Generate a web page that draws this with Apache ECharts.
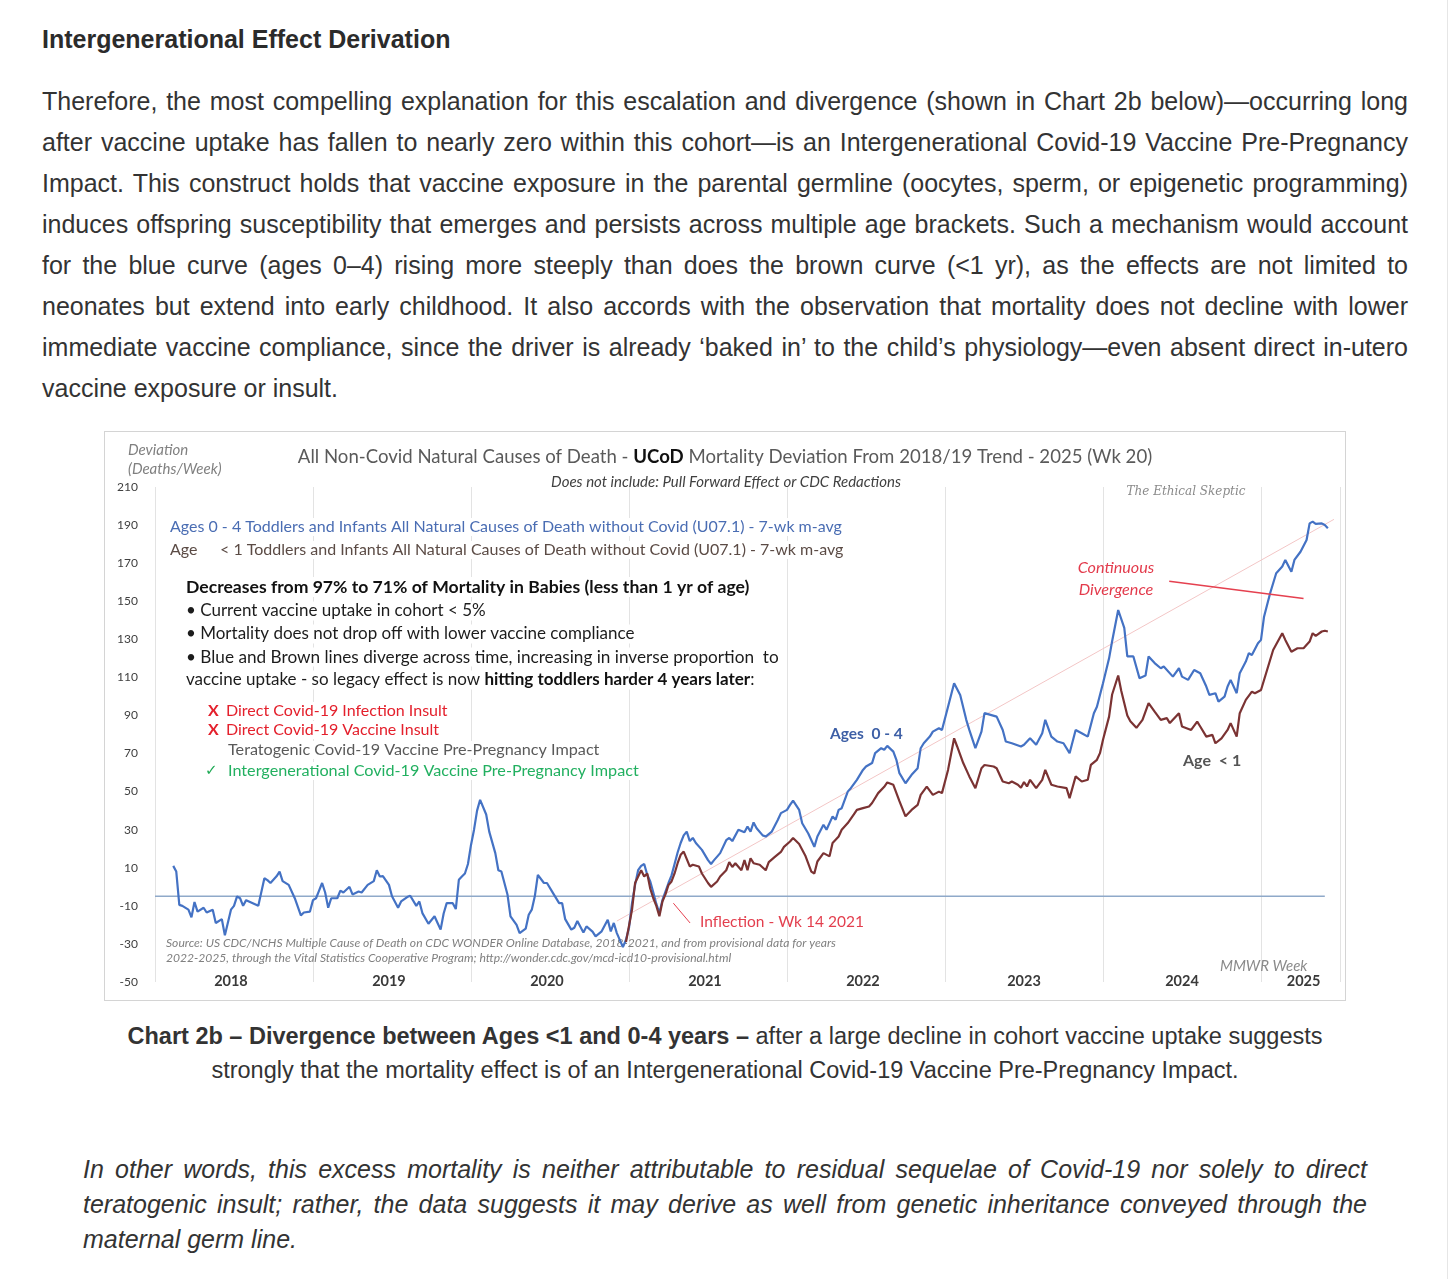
<!DOCTYPE html>
<html><head><meta charset="utf-8">
<script src="https://cdn.jsdelivr.net/npm/echarts@6/dist/echarts.min.js"></script>
<style>
html,body{margin:0;padding:0;background:#fff;}
body{width:1456px;height:1279px;overflow:hidden;position:relative;font-family:"Liberation Sans",Arial,sans-serif;color:#333;}
#h{position:absolute;left:42px;top:24px;font-size:25px;line-height:30px;font-weight:bold;color:#2b2b2b;white-space:nowrap;}
#p{position:absolute;left:42px;top:81px;width:1366px;font-size:25px;line-height:41px;color:#333;}
#p div,#q div{text-align:justify;text-align-last:justify;white-space:nowrap;}
#p div.l,#q div.l{text-align-last:left;}
#frame{position:absolute;left:104px;top:431px;width:1242px;height:570px;border:1px solid #d4d4d4;box-sizing:border-box;}
#chart{position:absolute;left:104px;top:431px;width:1242px;height:570px;}
#cap{position:absolute;left:60px;top:1019px;width:1330px;text-align:center;font-size:23.5px;line-height:34px;color:#333;}
#q{position:absolute;left:83px;top:1152px;width:1284px;font-size:25px;line-height:35px;font-style:italic;color:#333;}
#sb{position:absolute;left:1447px;top:0;width:1px;height:1279px;background:#e6e6e6;}
</style></head>
<body>
<div id="h">Intergenerational Effect Derivation</div>
<div id="p">
<div>Therefore, the most compelling explanation for this escalation and divergence (shown in Chart 2b below)—occurring long</div>
<div>after vaccine uptake has fallen to nearly zero within this cohort—is an Intergenerational Covid-19 Vaccine Pre-Pregnancy</div>
<div>Impact. This construct holds that vaccine exposure in the parental germline (oocytes, sperm, or epigenetic programming)</div>
<div>induces offspring susceptibility that emerges and persists across multiple age brackets. Such a mechanism would account</div>
<div>for the blue curve (ages 0–4) rising more steeply than does the brown curve (&lt;1 yr), as the effects are not limited to</div>
<div>neonates but extend into early childhood. It also accords with the observation that mortality does not decline with lower</div>
<div>immediate vaccine compliance, since the driver is already ‘baked in’ to the child’s physiology—even absent direct in-utero</div>
<div class="l">vaccine exposure or insult.</div>
</div>
<div id="frame"></div>
<div id="chart"></div>
<div id="cap"><b>Chart 2b – Divergence between Ages &lt;1 and 0-4 years –</b> after a large decline in cohort vaccine uptake suggests<br>strongly that the mortality effect is of an Intergenerational Covid-19 Vaccine Pre-Pregnancy Impact.</div>
<div id="q">
<div>In other words, this excess mortality is neither attributable to residual sequelae of Covid-19 nor solely to direct</div>
<div>teratogenic insult; rather, the data suggests it may derive as well from genetic inheritance conveyed through the</div>
<div class="l">maternal germ line.</div>
</div>
<div id="sb"></div>
<script>
// ---- data (weeks counted from start of MMWR 2018) ----
const yearLabels = ['2018','2019','2020','2021','2022','2023','2024','2025'];
const yearLabelWeeks = [25,77,129,181,233,286,338,378];
const yTickLabels = [-50,-30,-10,10,30,50,70,90,110,130,150,170,190,210];

const blueWeeks = [6,7,8,9,11,12,13,14,16,17,19,20,22,23,25,26,27,28,29,30,32,34,36,37,38,40,41,42,44,46,48,49,51,52,53,54,55,56,57,58,60,61,62,64,65,67,68,70,72,73,74,75,77,78,80,81,83,84,86,87,88,90,92,93,94,95,96,98,99,100,101,102,103,104,105,106,107,109,110,112,113,114,116,117,119,120,122,123,124,125,126,128,129,131,133,134,135,137,138,139,141,142,144,145,147,149,150,151,152,154,155,156,157,158,159,160,161,162,163,164,165,166,167,168,169,170,171,172,173,174,175,176,177,178,180,182,183,184,186,188,189,190,192,194,195,196,197,198,200,201,203,205,206,208,209,210,212,213,215,217,218,220,221,223,224,225,226,228,229,231,233,234,236,237,239,240,241,243,244,245,247,249,251,252,253,255,256,258,259,261,263,265,267,268,270,272,273,275,277,279,280,282,285,286,288,290,292,293,295,297,299,301,303,305,307,309,310,312,314,315,317,319,320,322,324,326,327,329,331,332,335,337,338,340,342,344,346,347,349,350,352,353,354,356,357,359,360,361,363,364,365,367,369,371,372,374,375,377,379,380,381,382,384,385,386];
const blueDev = [11,8,-9.5,-10,-12,-16,-8,-13,-11,-13.5,-12,-19,-17,-25.5,-12,-10,-5,-6,-10,-7,-8.5,-10,4.5,3.5,2,5.5,8,3,1,-6,-15,-13.5,-13,-7,-6,-2,2,-3,-11,-6,-6,-2,-3,0,-4,-2.5,-3,1,3,8.7,5.4,5.6,1,-5,-11,-7.7,-5.4,-4.7,-10,-7.7,-13.8,-19.4,-15.5,-19,-22.5,-14,-8.6,-8.6,-11.7,3.7,5.4,7,12,22,30,40,45.7,38,29,17.7,8.7,8,-4,-15.5,-20,-24.3,-22,-14.7,-12,-5,6.3,2,2,-3.3,-8.6,-8.6,-17,-22.5,-21.5,-18,-24,-20.8,-23.5,-26,-23.4,-17.3,-23.4,-19,-24.3,-31.7,-27.8,-21.5,-8.6,1,8.7,11,12,6.3,2.8,-3,-9,-13.8,-7,-2.5,2,6,12,18,23,27,29,24,25.7,23,19.4,14,12,14,17.7,24.5,25.7,24,30,28.6,31.7,29,33.8,30.8,27,26.4,29,35.2,38.7,40.4,43,45.3,40.4,33.4,28,21,26.4,32.6,30,37,35.2,40.4,41.3,50,51.8,56.2,61.4,63.2,65,70.2,72.8,72,74,71,66.7,59.7,54.4,58.8,62.3,72.8,75.4,78.9,81.5,83.3,82.4,94.6,106.9,100.8,87.7,82.4,72.8,81.5,91.2,90.3,89.4,82.4,76.3,75.4,73.7,74.6,78,74.6,80.7,87.7,78.9,76.3,75.4,70.2,82.4,80.7,78.9,91.2,94.6,106.9,120,129,145.4,136,121,121,109.6,111,121,117.5,114.8,115.7,110.4,114.8,110.4,108.7,113.9,112.2,105.2,100.8,101.7,97.3,99.9,105.2,108.7,101.7,112.2,118.3,122.7,121.8,127.9,129.7,141.9,154.2,164.7,168.2,171.7,165.5,171.7,176,182.2,190.9,191.8,190.6,190.9,190,188.3];

const brownWeeks = [155,157,158,160,161,162,163,164,165,166,167,168,169,170,171,172,173,174,176,177,179,180,182,183,185,186,188,189,190,191,193,194,195,196,197,199,201,202,204,206,207,209,210,212,214,216,217,218,220,222,223,225,226,228,230,231,233,235,236,238,240,241,243,245,247,249,251,252,254,256,258,259,261,263,264,266,268,270,272,273,276,277,279,281,282,284,285,286,287,288,290,292,293,295,297,300,301,303,305,307,308,310,311,312,314,315,317,318,320,321,323,325,327,329,331,333,334,337,338,341,343,344,346,348,349,351,353,354,356,357,359,361,362,364,366,368,371,372,374,376,378,380,381,382,384,385,386];
const brownDev = [-29,-12,2,8.7,5.4,7,-1,-6,-10,-15.5,-7.7,-4,1,2.8,7,12.4,16.8,18.5,10.7,11.6,10.7,7,2,0,2.8,5.4,8.7,13,10.4,12.4,8.7,14,8.7,15,12.4,11.6,8.7,13,15.7,18.3,21,23.8,25.6,22.5,16.5,8,7,13.3,17.7,16,23,26.4,30,33.5,38,40.4,41.3,42.2,44,49.2,52.5,54.8,53.6,45,37,40.4,43,48.3,52.6,48.3,50,49.2,61.4,78,73.7,65,58,51.8,62.3,64,63.2,62.3,55.3,54.4,55.3,53.6,52,55,52.7,56.2,51.8,56.2,61.4,53.6,52.7,51.8,46.6,58,55.3,56.2,64,66.7,70.2,77.2,89.4,101,111,103,90,87,83.5,87.7,96.5,92,87.7,88.6,86,91.2,84.2,82.4,86.8,84.2,78.9,79.8,75.4,78,82.4,86,78.9,91.2,98.2,102.5,101.7,103.4,113.9,124.4,133.2,129.7,123.5,125.3,125.3,128.8,133.2,131.8,134.1,134.5,134.1];

const baselineWeeks = [0,385], baselineDev = [-5,-5];
const trendWeeks = [152,388], trendDev = [-18,193];
const divergenceWeeks = [333.8,378], divergenceDev = [160.5,151.4];
const inflectionWeeks = [170.6,176.1], inflectionDev = [-8.6,-19];

const pairs = (w,v) => w.map((x,i)=>[x,v[i]]);
const F = '"Lato","Open Sans",sans-serif';

const chart = echarts.init(document.getElementById('chart'), null, {renderer:'canvas'});
const lineS = (data,color,width,z) => ({type:'line',data,symbol:'none',silent:true,z:z,
  lineStyle:{color,width},itemStyle:{color},animation:false});
// text helper; bg=true gives the text a white box that hides the grid lines behind it
const T = (text,x,y,o,bg) => ({type:'text',silent:true,z:1,style:Object.assign({text,x:bg?x-2:x,y,
  font:'16px '+F,fill:'#333',textVerticalAlign:'middle'},
  bg?{backgroundColor:'#fff',padding:[1,2]}:{},o||{})});

chart.setOption({
  animation:false,
  grid:{left:51,top:56,width:1185,height:495,containLabel:false},
  xAxis:{type:'value',min:0,max:390,interval:52,
    axisLine:{show:false},axisTick:{show:false},
    splitLine:{show:true,lineStyle:{color:'#e3e3e3',width:1}},
    axisLabel:{customValues:yearLabelWeeks,margin:-1,verticalAlign:'middle',
      fontFamily:F,fontSize:14.5,fontWeight:'bold',color:'#3a3a3a',
      formatter:v=>yearLabels[yearLabelWeeks.indexOf(v)]}},
  yAxis:{type:'value',min:-50,max:210,
    axisLine:{show:false},axisTick:{show:false},splitLine:{show:false},
    axisLabel:{customValues:yTickLabels,margin:17,fontFamily:F,fontSize:12,color:'#404040'}},
  series:[
    lineS(pairs(baselineWeeks,baselineDev),'#8fa9c9',1.5,1),
    lineS(pairs(trendWeeks,trendDev),'#f3c6c6',1,2),
    lineS(pairs(blueWeeks,blueDev),'#4472c4',2.2,3),
    lineS(pairs(brownWeeks,brownDev),'#7b3333',2.2,4),
    lineS(pairs(divergenceWeeks,divergenceDev),'#e5404f',1.5,5),
    lineS(pairs(inflectionWeeks,inflectionDev),'#e5404f',1,5)
  ],
  graphic:[
    T('Deviation',24,19,{font:'italic 15px '+F,fill:'#808080'}),
    T('(Deaths/Week)',24,38,{font:'italic 15px '+F,fill:'#808080'}),
    {type:'text',silent:true,z:1,style:{x:621,y:26,textAlign:'center',textVerticalAlign:'middle',
      text:'{a|All Non-Covid Natural Causes of Death - }{b|UCoD}{a| Mortality Deviation From 2018/19 Trend - 2025 (Wk 20)}',
      rich:{a:{fontFamily:F,fontSize:18.6,fill:'#5a5a5a',color:'#5a5a5a'},b:{fontFamily:F,fontSize:18.6,fontWeight:'bold',fill:'#111',color:'#111'}}}},
    T('Does not include: Pull Forward Effect or CDC Redactions',622,51,{textAlign:'center',font:'italic 15px '+F,fill:'#404040'}),
    T('The Ethical Skeptic',1082,61,{textAlign:'center',font:'italic 12px "DejaVu Serif",serif',fill:'#8a8a8a'}),
    T('Ages 0 - 4 Toddlers and Infants All Natural Causes of Death without Covid (U07.1) - 7-wk m-avg',66,96,{font:'16px '+F,fill:'#4a6db3'},true),
    T('Age',66,119,{font:'16px '+F,fill:'#5b4b45'},true),
    T('< 1 Toddlers and Infants All Natural Causes of Death without Covid (U07.1) - 7-wk m-avg',116,119,{font:'16px '+F,fill:'#5b4b45'},true),
    T('Decreases from 97% to 71% of Mortality in Babies (less than 1 yr of age)',82,156,{font:'bold 17.6px '+F,fill:'#111'},true),
    T('• Current vaccine uptake in cohort < 5%',82,180,{font:'17px '+F,fill:'#1c1c1c'},true),
    T('• Mortality does not drop off with lower vaccine compliance',82,203,{font:'17px '+F,fill:'#1c1c1c'},true),
    T('• Blue and Brown lines diverge across time, increasing in inverse proportion  to',82,226,{font:'17.2px '+F,fill:'#1c1c1c'},true),
    {type:'text',silent:true,z:1,style:{x:80,y:249,textVerticalAlign:'middle',backgroundColor:'#fff',padding:[1,2],
      text:'{a|vaccine uptake - so legacy effect is now }{b|hitting toddlers harder 4 years later}{a|:}',
      rich:{a:{fontFamily:F,fontSize:17,fill:'#1c1c1c',color:'#1c1c1c'},b:{fontFamily:F,fontSize:17,fontWeight:'bold',fill:'#111',color:'#111'}}}},
    T('X',104,280,{font:'bold 16px '+F,fill:'#e4202c'}),
    T('Direct Covid-19 Infection Insult',122,280,{font:'16px '+F,fill:'#e4202c'},true),
    T('X',104,299,{font:'bold 16px '+F,fill:'#e4202c'}),
    T('Direct Covid-19 Vaccine Insult',122,299,{font:'16px '+F,fill:'#e4202c'},true),
    T('Teratogenic Covid-19 Vaccine Pre-Pregnancy Impact',124,319,{font:'16.2px '+F,fill:'#5a5a5a'},true),
    T('✓',101,340,{font:'bold 15px "DejaVu Sans",sans-serif',fill:'#1faa55'}),
    T('Intergenerational Covid-19 Vaccine Pre-Pregnancy Impact',124,340,{font:'16.2px '+F,fill:'#22b060'},true),
    T('Ages  0 - 4',726,303,{font:'bold 15.5px '+F,fill:'#3d5fa6'}),
    T('Age  < 1',1079,330,{font:'bold 16px '+F,fill:'#555'}),
    T('Continuous',1012,137,{textAlign:'center',font:'italic 16.2px '+F,fill:'#e33b4c'}),
    T('Divergence',1012,159,{textAlign:'center',font:'italic 16.2px '+F,fill:'#e33b4c'}),
    T('Inflection - Wk 14 2021',596,491,{font:'15.5px '+F,fill:'#e33f4e'}),
    T('Source: US CDC/NCHS Multiple Cause of Death on CDC WONDER Online Database, 2018-2021, and from provisional data for years',62,512,{font:'italic 12.1px '+F,fill:'#808080'}),
    T('2022-2025, through the Vital Statistics Cooperative Program; http://wonder.cdc.gov/mcd-icd10-provisional.html',62,527,{font:'italic 12.1px '+F,fill:'#808080'}),
    T('MMWR Week',1116,535,{font:'italic 15px '+F,fill:'#8a8a8a'})
  ]
});
</script>
</body></html>
